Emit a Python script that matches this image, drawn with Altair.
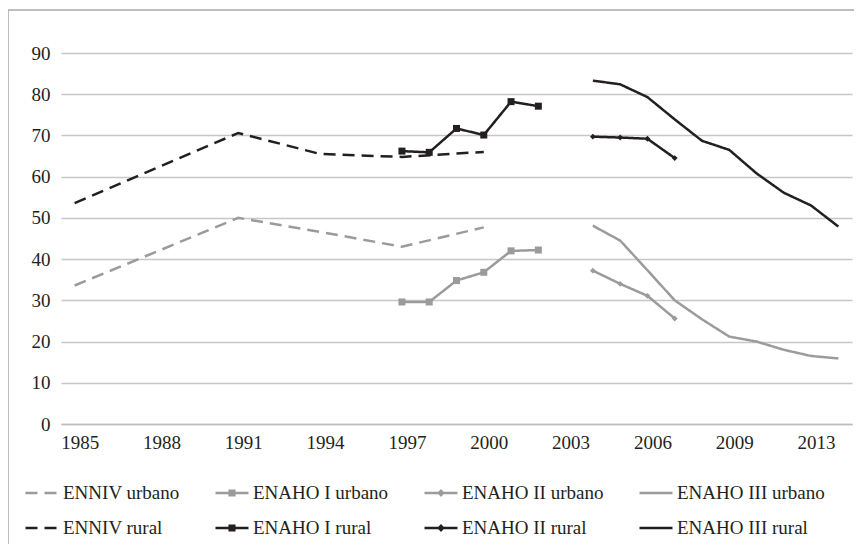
import altair as alt
import pandas as pd

# ---------------- data ----------------
years_enniv = [1985, 1991, 1994, 1997, 2000]
enniv_urbano = [33.6, 50.0, 46.6, 43.0, 47.7]
enniv_rural = [53.6, 70.6, 65.5, 64.8, 66.0]

years_enaho1 = [1997, 1998, 1999, 2000, 2001, 2002]
enaho1_urbano = [29.6, 29.6, 34.8, 36.8, 42.0, 42.2]
enaho1_rural = [66.2, 65.9, 71.7, 70.1, 78.2, 77.1]

years_enaho2 = [2004, 2005, 2006, 2007]
enaho2_urbano = [37.2, 34.0, 31.1, 25.6]
enaho2_rural = [69.7, 69.5, 69.2, 64.5]

years_enaho3 = [2004, 2005, 2006, 2007, 2008, 2009, 2010, 2011, 2012, 2013]
enaho3_urbano = [48.1, 44.5, 37.3, 30.0, 25.4, 21.2, 20.0, 18.0, 16.5, 15.9]
enaho3_rural = [83.3, 82.4, 79.3, 73.9, 68.7, 66.5, 60.8, 56.1, 53.0, 47.9]

# legend order (filled column by column: urbano above rural)
series_names = [
    "ENNIV urbano", "ENNIV rural",
    "ENAHO I urbano", "ENAHO I rural",
    "ENAHO II urbano", "ENAHO II rural",
    "ENAHO III urbano", "ENAHO III rural",
]

tick_positions = [1985, 1988, 1991, 1994, 1997, 2000, 2003, 2006, 2009, 2012]
tick_labels = ["1985", "1988", "1991", "1994", "1997", "2000", "2003", "2006", "2009", "2013"]
y_ticks = [0, 10, 20, 30, 40, 50, 60, 70, 80, 90]

# ---------------- styles ----------------
GRAY = "#9b9b9b"
BLACK = "#231f20"
series_colors = [GRAY, BLACK, GRAY, BLACK, GRAY, BLACK, GRAY, BLACK]
DASH = [12, 7]
SOLID = [1, 0]
series_dashes = [DASH, DASH, SOLID, SOLID, SOLID, SOLID, SOLID, SOLID]

LINE = "M-1,0H1"
SQ = "M-1,0H1M-0.14,-0.14H0.14V0.14H-0.14Z"
DI = "M-1,0H1M0,-0.13L0.13,0L0,0.13L-0.13,0Z"
series_shapes = [LINE, LINE, SQ, SQ, DI, DI, LINE, LINE]

# ---------------- long table ----------------
rows = []
def add(name, xs, ys):
    for x, y in zip(xs, ys):
        rows.append({"series": name, "year": x, "value": y})

add("ENNIV urbano", years_enniv, enniv_urbano)
add("ENNIV rural", years_enniv, enniv_rural)
add("ENAHO I urbano", years_enaho1, enaho1_urbano)
add("ENAHO I rural", years_enaho1, enaho1_rural)
add("ENAHO II urbano", years_enaho2, enaho2_urbano)
add("ENAHO II rural", years_enaho2, enaho2_rural)
add("ENAHO III urbano", years_enaho3, enaho3_urbano)
add("ENAHO III rural", years_enaho3, enaho3_rural)
df = pd.DataFrame(rows)

color_scale = alt.Scale(domain=series_names, range=series_colors)
dash_scale = alt.Scale(domain=series_names, range=series_dashes)
shape_scale = alt.Scale(domain=series_names, range=series_shapes)

label_expr = "{}[indexof({}, datum.value)]".format(
    "[" + ",".join("'%s'" % t for t in tick_labels) + "]",
    "[" + ",".join(str(t) for t in tick_positions) + "]",
)

x_enc = alt.X(
    "year:Q",
    scale=alt.Scale(domain=[1984.5, 2013.5], nice=False, zero=False),
    axis=alt.Axis(
        values=tick_positions, labelExpr=label_expr, title=None, grid=False,
        ticks=False, domain=True, domainColor="#bdbdbd", domainWidth=1.5,
        labelPadding=9, labelOffset=5,
    ),
)
y_enc = alt.Y(
    "value:Q",
    scale=alt.Scale(domain=[0, 90], nice=False),
    axis=alt.Axis(
        values=y_ticks, title=None, grid=True, gridColor="#c6c6c6", gridWidth=1.4,
        ticks=False, domain=False, labelPadding=11,
    ),
)

leg = alt.Legend(
    title=None, orient="none", legendX=-37, legendY=422, columns=4,
    symbolSize=1089, symbolStrokeWidth=2.5, labelFont="Liberation Serif",
    labelFontSize=19, labelColor=BLACK, rowPadding=7, columnPadding=30,
    labelOffset=3, labelLimit=300,
)

legend_layer = alt.Chart(pd.DataFrame({"series": series_names})).transform_filter(
    "false"
).mark_point(filled=True, opacity=1, strokeWidth=2.5).encode(
    color=alt.Color("series:N", scale=color_scale, legend=leg),
    stroke=alt.Stroke("series:N", scale=color_scale, legend=leg),
    shape=alt.Shape("series:N", scale=shape_scale, legend=leg),
    strokeDash=alt.StrokeDash("series:N", scale=dash_scale, legend=leg),
)

lines = alt.Chart(df).mark_line(strokeWidth=2.5).encode(
    x=x_enc,
    y=y_enc,
    color=alt.Color("series:N", scale=color_scale),
    strokeDash=alt.StrokeDash("series:N", scale=dash_scale),
    detail="series:N",
)

squares = alt.Chart(df).transform_filter(
    "indexof(['ENAHO I urbano','ENAHO I rural'], datum.series) >= 0"
).mark_point(shape="square", filled=True, size=49, opacity=1).encode(
    x=x_enc, y=y_enc,
    color=alt.Color("series:N", scale=color_scale),
)

diamonds = alt.Chart(df).transform_filter(
    "indexof(['ENAHO II urbano','ENAHO II rural'], datum.series) >= 0"
).mark_point(shape="diamond", filled=True, size=34, opacity=1).encode(
    x=x_enc, y=y_enc,
    color=alt.Color("series:N", scale=color_scale),
)

frame_top = alt.Chart(alt.Data(values=[{}])).mark_rule(
    color="#a8a8a8", strokeWidth=1.5
).encode(x=alt.value(-53), x2=alt.value(800), y=alt.value(-43))
frame_left = alt.Chart(alt.Data(values=[{}])).mark_rule(
    color="#a8a8a8", strokeWidth=1.5
).encode(x=alt.value(-53), y=alt.value(-43), y2=alt.value(500))

chart = alt.layer(
    legend_layer, frame_top, frame_left, lines, squares, diamonds
).properties(
    width=791, height=371,
    padding={"left": 53, "top": 45, "right": 2, "bottom": 120},
    autosize=alt.AutoSizeParams(type="none"),
).configure_view(stroke=None).configure_axis(
    labelFont="Liberation Serif", labelFontSize=19, labelColor=BLACK,
)

chart.save("out.html", embed_options={"renderer": "svg", "actions": False})
